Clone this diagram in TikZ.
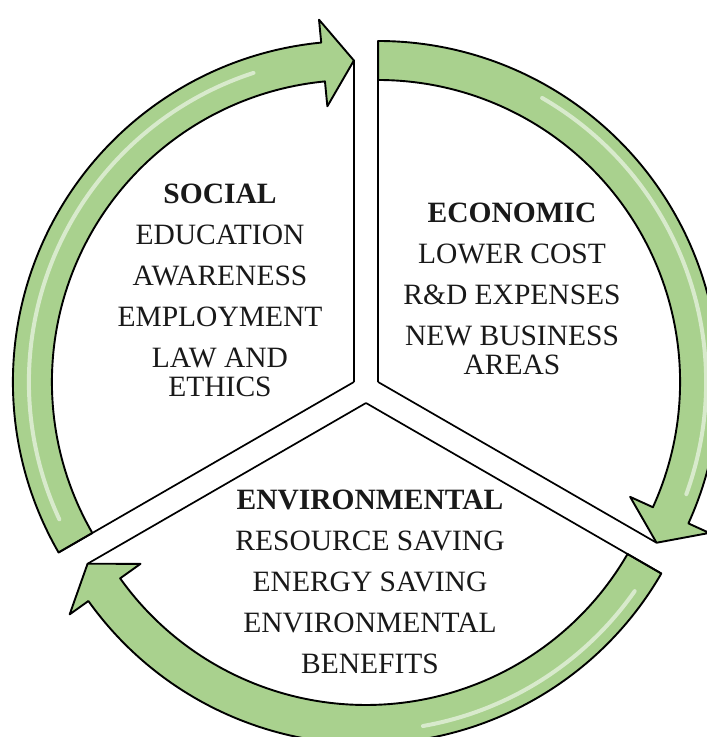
\documentclass[tikz,border=0pt]{standalone}
\usepackage{fontspec}
\setmainfont{Liberation Serif}
\definecolor{bandgreen}{RGB}{169,209,142}
\definecolor{textgray}{RGB}{25,25,25}
\begin{document}
\begin{tikzpicture}[x=1pt,y=1pt,
  band/.style={fill=bandgreen,draw=black,line width=1.9pt,line join=round},
  edge/.style={draw=black,line width=1.7pt},
  gloss/.style={draw=white,opacity=.55,line width=4pt,line cap=round},
  block/.style={align=center,inner sep=0pt,text=textgray,font=\fontsize{29.5}{29}\selectfont}]
\useasboundingbox (0,0) rectangle (707,737);
\clip (0,0) rectangle (707,737);
\coordinate (L) at (353.9,355);
\coordinate (R) at (378.1,355);
\coordinate (B) at (366,334);
% left sector (social)
\begin{scope}[shift={(L)}]
  \coordinate (Lend) at (210:341);
  \coordinate (Ltip) at (90:321.5);
  \path[band] (210:341) arc[start angle=210,end angle=95.5,radius=341]
    -- (95.5:364) -- (90:321.5) -- (95.5:277) -- (95.5:302)
    arc[start angle=95.5,end angle=210,radius=302] -- cycle;
  \draw[gloss] (205:325) arc[start angle=205,end angle=108,radius=325];
\end{scope}
% right sector (economic)
\begin{scope}[shift={(R)}]
  \coordinate (Rend) at (90:341);
  \coordinate (Rtip) at (-30:321.5);
  \path[band] (90:341) arc[start angle=90,end angle=-24.5,radius=341]
    -- (-24.5:364) -- (-30:321.5) -- (-24.5:277) -- (-24.5:302)
    arc[start angle=-24.5,end angle=90,radius=302] -- cycle;
  \draw[gloss] (60:328) arc[start angle=60,end angle=-20,radius=328];
\end{scope}
% bottom sector (environmental)
\begin{scope}[shift={(B)}]
  \coordinate (Bend) at (330:341);
  \coordinate (Btip) at (210:321.5);
  \path[band] (330:341) arc[start angle=330,end angle=215.5,radius=341]
    -- (215.5:364) -- (210:321.5) -- (215.5:277) -- (215.5:302)
    arc[start angle=215.5,end angle=330,radius=302] -- cycle;
  \draw[gloss] (325:328) arc[start angle=325,end angle=280,radius=328];
\end{scope}
\draw[edge] (L) -- (Lend);
\draw[edge] (L) -- (Ltip);
\draw[edge] (R) -- (Rend);
\draw[edge] (R) -- (Rtip);
\draw[edge] (B) -- (Bend);
\draw[edge] (B) -- (Btip);
% texts
\node[block] (social) at (220,447) {\textbf{SOCIAL}\\[12pt]EDUCATION\\[12pt]AWARENESS\\[12pt]EMPLOYMENT\\[12pt]LAW AND\\ETHICS};
\node[block] (economic) at (512,448.5) {\textbf{ECONOMIC}\\[12pt]LOWER COST\\[12pt]R\&D EXPENSES\\[12pt]NEW BUSINESS\\AREAS};
\node[block] (environmental) at (370,155.5) {\textbf{ENVIRONMENTAL}\\[12pt]RESOURCE SAVING\\[12pt]ENERGY SAVING\\[12pt]ENVIRONMENTAL\\[12pt]BENEFITS};
\end{tikzpicture}
\end{document}
